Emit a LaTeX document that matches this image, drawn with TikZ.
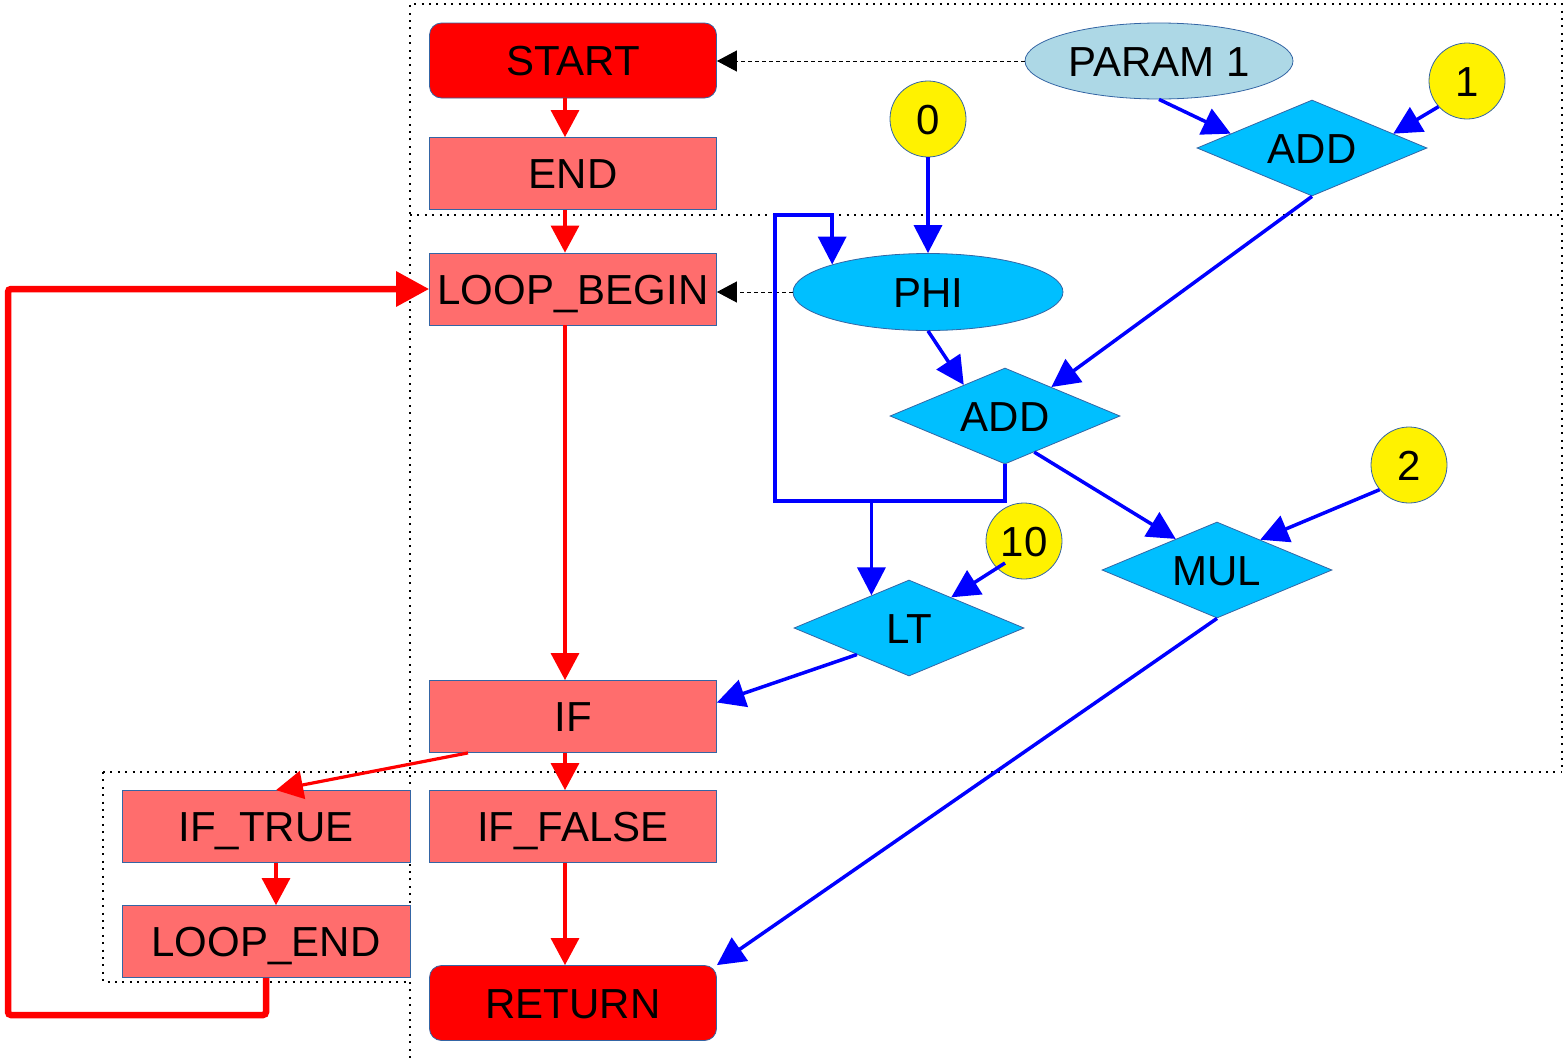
\documentclass[tikz,border=0pt]{standalone}
\usepackage{fontspec}
\setmainfont{Liberation Sans}
\usetikzlibrary{arrows.meta,shapes.geometric,calc}
\definecolor{outline}{RGB}{52,101,164}
\definecolor{ctrlbox}{RGB}{255,109,109}
\definecolor{opfill}{RGB}{0,191,255}
\definecolor{paramfill}{RGB}{173,216,230}
\definecolor{dataline}{RGB}{0,0,255}
\definecolor{ctrlline}{RGB}{255,0,0}
\tikzset{
  nodebase/.style={draw=outline, line width=0.8pt, inner sep=0pt, text height=30pt, text depth=0pt,
    font=\fontsize{42}{50}\selectfont},
  terminal/.style={nodebase, rectangle, rounded corners=12pt, fill=red, minimum width=287pt, minimum height=75pt},
  block/.style={nodebase, rectangle, fill=ctrlbox, minimum width=287pt, minimum height=72pt},
  opnode/.style={nodebase, diamond, aspect=2.4, fill=opfill, minimum width=230pt, minimum height=96pt},
  phinode/.style={nodebase, ellipse, fill=opfill, minimum width=270pt, minimum height=77pt},
  paramnode/.style={nodebase, ellipse, fill=paramfill, minimum width=268pt, minimum height=76pt},
  constnode/.style={nodebase, ellipse, fill=yellow, minimum width=76pt, minimum height=76pt},
  region/.style={line width=2pt, dash pattern=on 2pt off 5.4pt},
  ctrl/.style={draw=ctrlline, line width=3.2pt, -{Triangle[length=27pt,width=28pt]}},
  backedge/.style={draw=ctrlline, line width=6.5pt, rounded corners=3pt, -{Triangle[length=33pt,width=34pt]}},
  dat/.style={draw=dataline, line width=3.5pt, -{Triangle[length=28pt,width=28pt]}},
  dep/.style={draw=black, line width=1pt, dash pattern=on 4pt off 3pt, -{Triangle[length=20pt,width=21pt]}},
}
\begin{document}
\begin{tikzpicture}[x=1pt, y=-1pt]
\useasboundingbox (0,0) rectangle (1564,1058);

% dotted region frames
\draw[region] (410,1058) -- (410,4) -- (1562,4) -- (1562,772);
\draw[region] (410,215) -- (1562,215);
\draw[region] (103,772) -- (1562,772);
\draw[region] (103,772) -- (103,982) -- (410,982);

% control nodes
\node[terminal] (start) at (573,60.5) {START};
\node[block] (endn) at (573,173.5) {END};
\node[block] (loopb) at (573,289) {LOOP\_BEGIN};
\node[block] (ifn) at (573,716.5) {IF};
\node[block] (iffalse) at (573,826.5) {IF\_FALSE};
\node[terminal] (ret) at (573,1003) {RETURN};
\node[block, minimum width=288pt] (iftrue) at (266,826.5) {IF\_TRUE};
\node[block, minimum width=288pt] (loopend) at (266,941.5) {LOOP\_END};

% data nodes
\node[paramnode] (param) at (1159,61) {PARAM 1};
\node[constnode] (c1) at (1467,81) {1};
\node[constnode] (c0) at (928,119) {0};
\node[opnode] (add1) at (1312,148) {ADD};
\node[phinode] (phi) at (928,292) {PHI};
\node[opnode] (add2) at (1005,416) {ADD};
\node[constnode] (c2) at (1409,465) {2};
\node[constnode] (c10) at (1024,541) {10};
\node[opnode] (mul) at (1217,570) {MUL};
\node[opnode] (lt) at (909,628) {LT};

% control flow
\draw[ctrl] ([xshift=-8pt]start.south) -- ([xshift=-8pt]endn.north);
\draw[ctrl] ([xshift=-8pt]endn.south) -- ([xshift=-8pt]loopb.north);
\draw[ctrl] ([xshift=-8pt]loopb.south) -- ([xshift=-8pt]ifn.north);
\draw[ctrl] ([xshift=-8pt]ifn.south) -- ([xshift=-8pt]iffalse.north);
\draw[ctrl] ([xshift=-105pt]ifn.south) -- ([xshift=10pt]iftrue.north);
\draw[ctrl] ([xshift=10pt]iftrue.south) -- ([xshift=10pt]loopend.north);
\draw[ctrl] ([xshift=-8pt]iffalse.south) -- ([xshift=-8pt]ret.north);
\coordinate (backcorner) at (8,1015);
\draw[backedge] (loopend.south) |- (backcorner) |- (loopb.west);

% dependencies on control nodes
\draw[dep] (param.west) -- (param.west -| start.east);
\draw[dep] (phi.west) -- (phi.west -| loopb.east);

% data flow
\draw[dat] (param.south) -- (add1.170);
\draw[dat] (c1.222) -- (add1.10);
\draw[dat] (c0.south) -- (phi.north);
\draw[dat] (add1.south) -- (add2.32);
\draw[dat] (phi.south) -- (add2.143);
\coordinate (fbL) at (775,501);
\coordinate (fbT) at (775,215);
\draw[dat] (add2.south) |- (fbL) -- (fbT) -| (phi.164);
\draw[dat] (lt.139 |- fbL) -- (lt.139);
\draw[dat] ([xshift=-19pt,yshift=-22pt]c10.center) -- (lt.36);
\draw[dat] (add2.-51) -- (mul.143);
\draw[dat] (c2.220) -- (mul.35);
\draw[dat] (mul.south) -- (ret.north east);
\draw[dat] (lt.207) -- ([yshift=14pt]ifn.east);
\end{tikzpicture}
\end{document}
